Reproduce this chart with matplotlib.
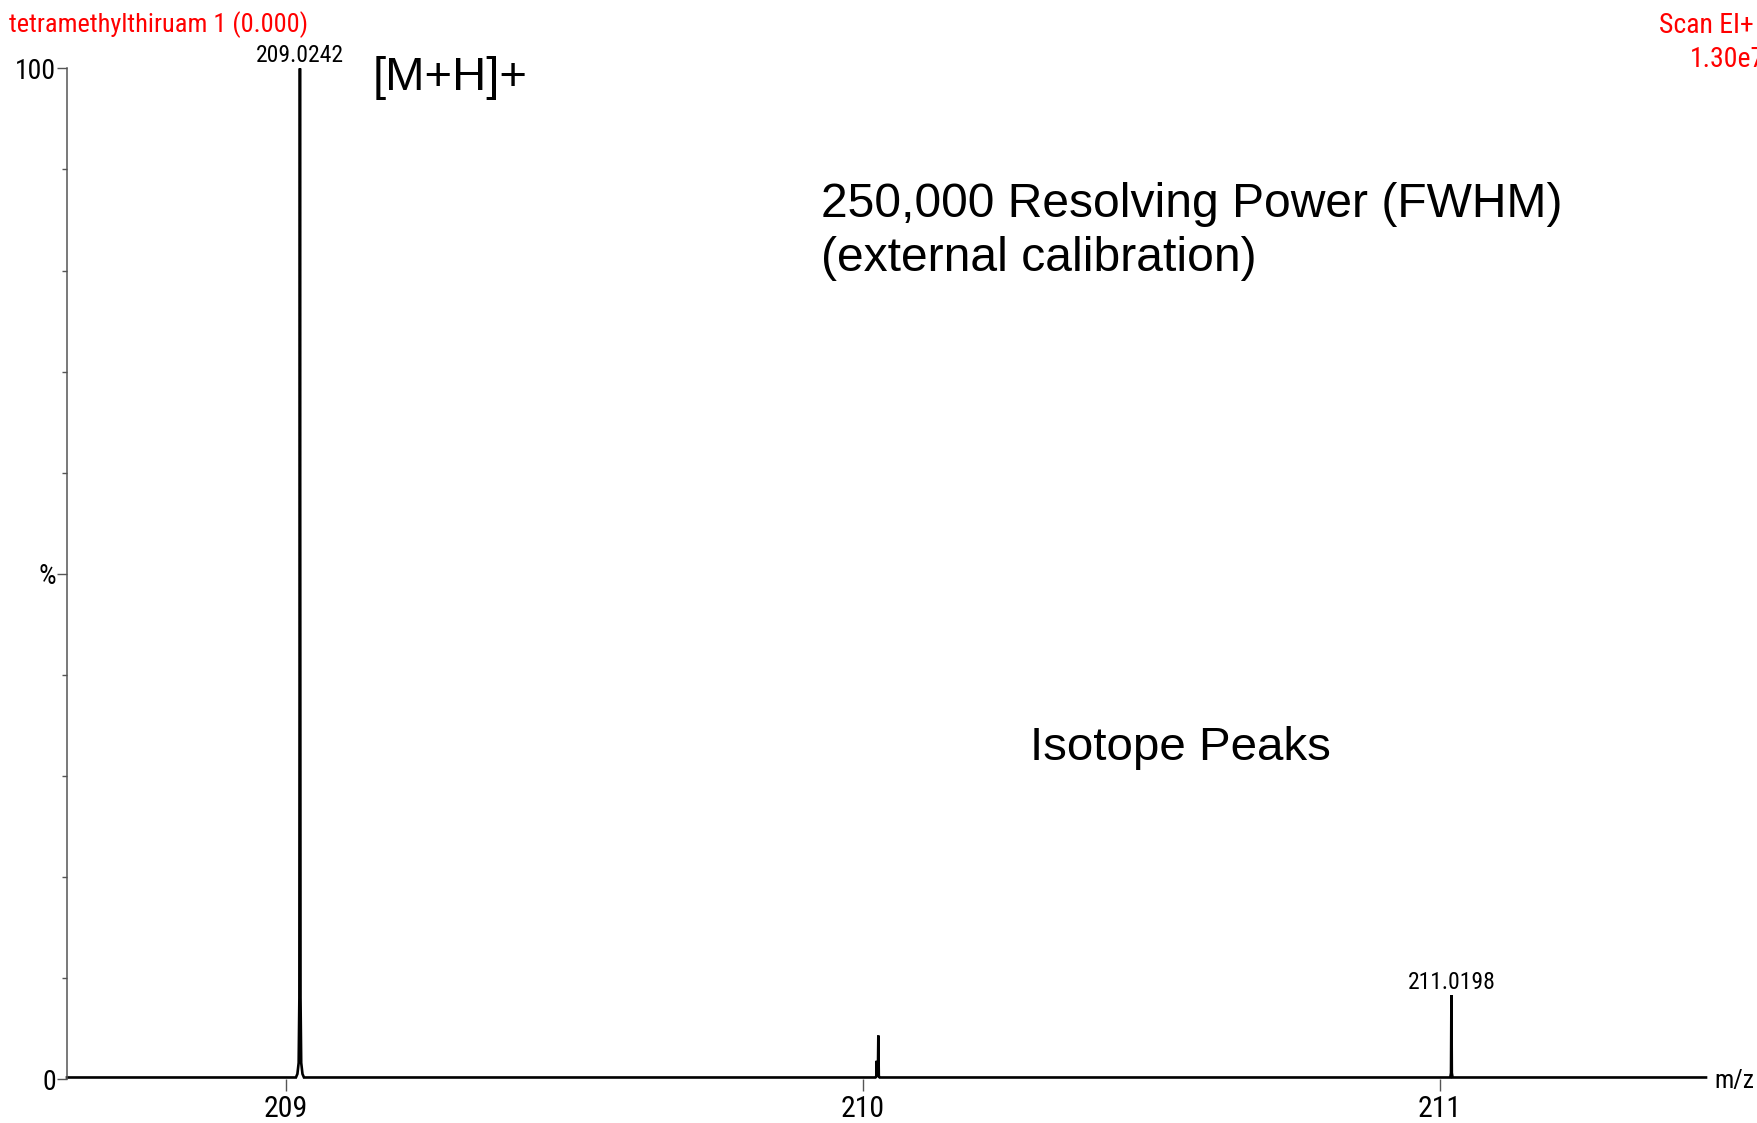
import numpy as np, matplotlib
matplotlib.use("Agg"); import matplotlib.pyplot as plt

# profile trace (m/z, % intensity)
trace_mz = [208.6205, 209.0172, 209.0198, 209.0220, 209.0232, 209.0242, 209.0252, 209.0264,
            209.0286, 209.0312, 210.0215, 210.0232, 210.0238, 210.0244, 210.0258, 210.0266,
            210.0274, 210.0290, 211.0178, 211.0191, 211.0198, 211.0205, 211.0218, 211.461]
trace_int = [0.15, 0.15, 0.5, 1.6, 8, 100, 8, 1.6,
             0.5, 0.15, 0.15, 0.3, 1.8, 0.3, 0.3, 4.3,
             0.3, 0.15, 0.15, 0.6, 8.3, 0.6, 0.15, 0.15]
# labelled centroids
label_mz = [209.0242, 211.0198]
label_int = [100, 8.3]
xticks = [209, 210, 211]
yticks_major = [0, 50, 100]
ytick_labels = ["0", "%", "100"]
yticks_minor = [10, 20, 30, 40, 60, 70, 80, 90]

W, H = 1757, 1123
narrow = ['Roboto Condensed', 'DejaVu Sans']
wide = ['Liberation Sans', 'DejaVu Sans']
RED = '#ff0000'

fig = plt.figure(figsize=(W/100, H/100), dpi=100)
ax = fig.add_axes([67/W, 1-1079/H, (1706-67)/W, (1079-68.4)/H])
ax.plot(trace_mz, trace_int, color='black', lw=1.9, clip_on=False, solid_joinstyle='miter')
ax.set_xlim(208.6205, 211.461); ax.set_ylim(0, 100)

for s in ['top', 'right', 'bottom']:
    ax.spines[s].set_visible(False)
ax.spines['left'].set_color('#555555'); ax.spines['left'].set_linewidth(1.1)

ax.set_xticks(xticks)
ax.set_xticklabels([str(t) for t in xticks], fontfamily=narrow, fontsize=21.5)
ax.tick_params(axis='x', direction='out', length=8.6, width=1.0, color='#555555', pad=3)
ax.set_yticks(yticks_major)
ax.set_yticklabels(ytick_labels, fontfamily=narrow, fontsize=20)
ax.set_yticks(yticks_minor, minor=True)
ax.tick_params(axis='y', which='major', direction='out', length=7, width=1.0, color='#555555', pad=1)
ax.tick_params(axis='y', which='minor', direction='out', length=3.6, width=1.0, color='#555555')

for mz, it in zip(label_mz, label_int):
    ax.annotate(f"{mz:.4f}", (mz, it), xytext=(0, 4.3), textcoords='offset points',
                ha='center', va='baseline', fontsize=17, fontfamily=narrow, annotation_clip=False)

ax.text(1.005, -0.002, "m/z", transform=ax.transAxes, ha='left', va='center',
        fontsize=18.5, fontfamily=narrow)

# instrument header
fig.text(9/W, 1-32/H, "tetramethylthiruam 1 (0.000)", color=RED, fontsize=19,
         fontfamily=narrow, ha='left', va='baseline')
fig.text(1754/W, 1-33/H, "Scan EI+", color=RED, fontsize=20, fontfamily=narrow,
         ha='right', va='baseline')
fig.text(1690/W, 1-67/H, "1.30e7", color=RED, fontsize=20, fontfamily=narrow,
         ha='left', va='baseline')

# annotations
fig.text(373/W, 1-89.6/H, "[M+H]+", fontsize=34, fontfamily=wide, ha='left', va='baseline')
fig.text(821/W, 1-217/H, "250,000 Resolving Power (FWHM)", fontsize=34.6, fontfamily=wide,
         ha='left', va='baseline')
fig.text(821/W, 1-271/H, "(external calibration)", fontsize=34.6, fontfamily=wide,
         ha='left', va='baseline')
fig.text(1030/W, 1-760/H, "Isotope Peaks", fontsize=34.2, fontfamily=wide, ha='left', va='baseline')

fig.savefig("out.png", dpi=100)
